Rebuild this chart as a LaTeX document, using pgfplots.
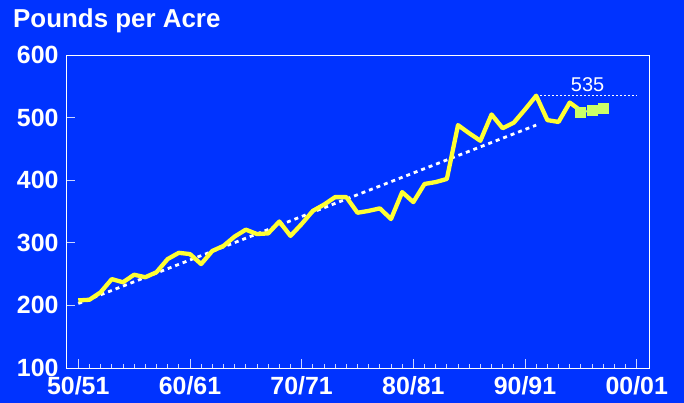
\documentclass[border=0pt]{standalone}
\usepackage{pgfplots}
\pgfplotsset{compat=1.18}
\usepackage{fontspec}
\setmainfont{Liberation Sans}
\definecolor{bg}{RGB}{0,51,255}
\definecolor{ylw}{RGB}{255,255,51}
\definecolor{grn}{RGB}{204,255,102}
\begin{document}
\begin{tikzpicture}
\fill[bg] (0,0) rectangle (684bp,403bp);
\useasboundingbox (0,0) rectangle (684bp,403bp);
\node[anchor=base west,text=white,inner sep=0pt,font=\bfseries\fontsize{26}{30}\selectfont] at (13bp,375bp) {Pounds per Acre};
\begin{axis}[at={(66bp,35bp)},anchor=south west, scale only axis, width=583bp, height=313bp,
 xmin=1948.9, xmax=2001.1, ymin=100, ymax=600,
 axis line style={white, line width=0.8bp},
 xtick={1950,1960,...,2000}, xticklabels={50/51,60/61,70/71,80/81,90/91,00/01},
 minor x tick num=9,
 ytick={100,200,...,600},
 tick pos=left, tick align=inside,
 major tick length=9bp, minor tick length=4bp,
 every tick/.style={white!80!bg, line width=0.8bp},
 ticklabel style={text=white, font=\bfseries\fontsize{25}{25}\selectfont},
 yticklabel style={xshift=-4bp},
 xticklabel style={yshift=-5bp},
 /pgf/number format/assume math mode=true,
 clip=false,
]
\addplot[white, line width=2.8bp, dash pattern=on 4bp off 4bp] coordinates {(1950,203)(1991,488)};
\addplot[white, line width=1.4bp, dash pattern=on 1.5bp off 2.5bp] coordinates {(1991,535)(2000,535)};
\addplot[ylw, line width=4.3bp, line join=round] coordinates {
(1950,208)(1951,209)(1952,221)(1953,242)(1954,237)(1955,249)(1956,245)(1957,253)(1958,274)(1959,284)
(1960,282)(1961,266)(1962,287)(1963,295)(1964,310)(1965,321)(1966,314)(1967,315)(1968,334)(1969,311)
(1970,330)(1971,351)(1972,361)(1973,373)(1974,373)(1975,348)(1976,351)(1977,355)(1978,338)(1979,381)
(1980,365)(1981,394)(1982,397)(1983,402)(1984,488)(1985,475)(1986,463)(1987,505)(1988,483)(1989,492)
(1990,513)(1991,535)(1992,496)(1993,493)(1994,524)(1995,511)};
\addplot[grn, line width=2bp, mark=square*, mark size=4.5bp, mark options={fill=grn, draw=grn}] coordinates {(1995,508)(1996,512)(1997,514)};
\node[text=white, font=\fontsize{20}{20}\selectfont] at (axis cs:1995.6,552) {535};
\end{axis}
\end{tikzpicture}
\end{document}
